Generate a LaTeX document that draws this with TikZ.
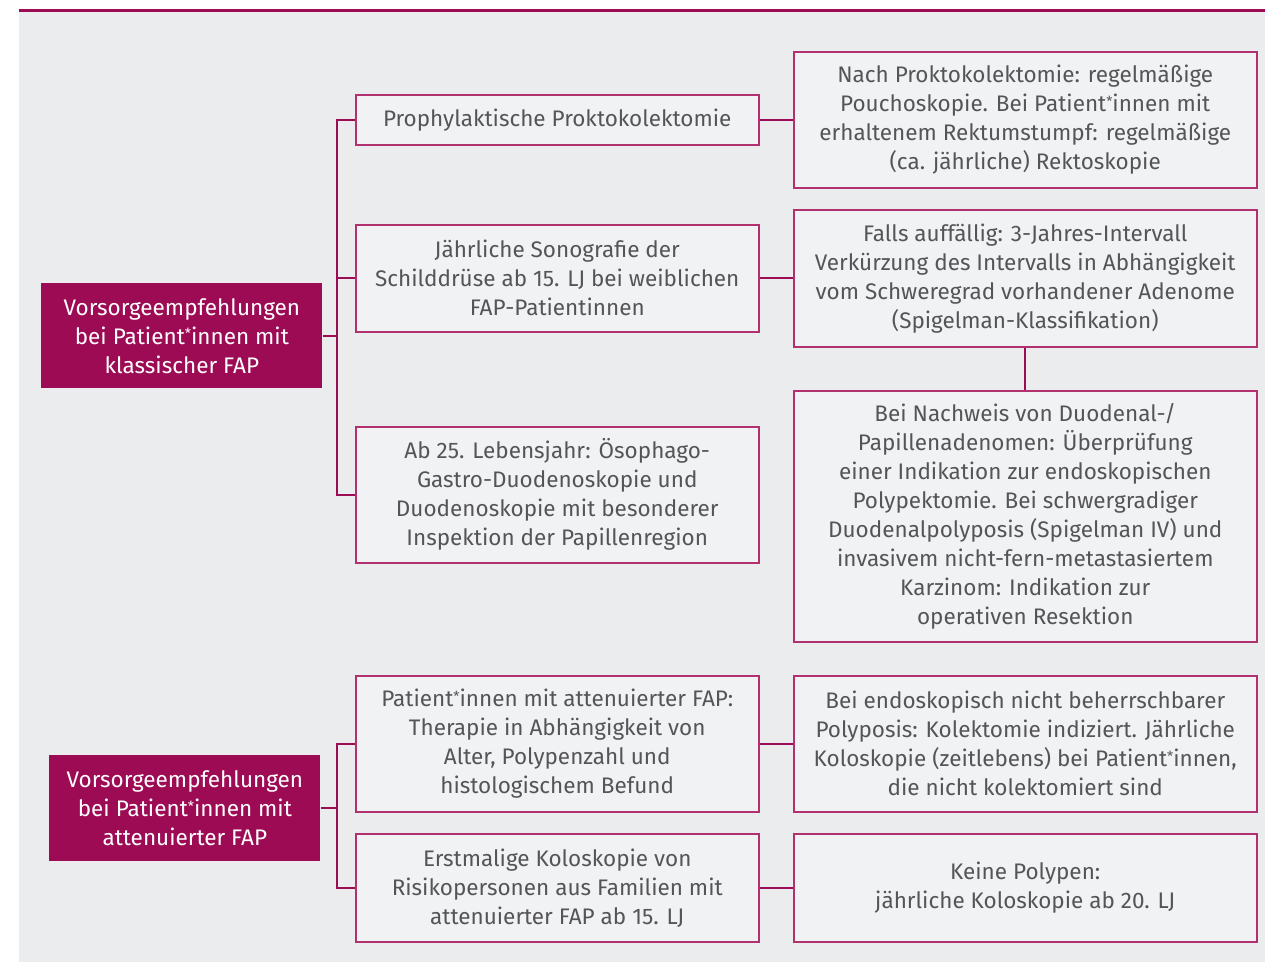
\documentclass[tikz,border=0pt]{standalone}
\usepackage{fontspec}
\setmainfont{Fira Sans}
\definecolor{fapred}{HTML}{9E0B55}
\definecolor{fapedge}{HTML}{B3306F}
\definecolor{fapgray}{HTML}{EBECEE}
\definecolor{fapbox}{HTML}{F1F2F4}
\definecolor{faptext}{HTML}{555558}
\newcommand{\gstar}{\raisebox{0.25em}{\fontsize{14}{14}\selectfont*}}
\tikzset{every picture/.style={line width=0.75pt}}
\tikzset{
  headbox/.style={fill=fapred,text=white,align=center,inner sep=0pt,anchor=north west,font=\fontsize{22.5}{29}\selectfont},
  infobox/.style={draw=fapedge,line width=1.5pt,fill=fapbox,text=faptext,align=center,inner sep=0pt,anchor=north west,font=\fontsize{22.5}{29}\selectfont},
  link/.style={draw=fapred,line width=2pt}
}

\begin{document}
\begin{tikzpicture}[x=1pt,y=1pt,yscale=-1,xscale=1]
        \useasboundingbox (0,0) rectangle (1265,962);

        %Shape: Rectangle (panel)
        \fill[fapgray] (19,11) rectangle (1265,962);
        %Straight Lines (top rule)
        \draw[fapred,line width=3pt] (19,10) -- (1265,10);

        % Head Nodes
        \node[headbox,minimum width=281,minimum height=105] (klass) at (41,283) {Vorsorgeempfehlungen\\bei Patient\gstar innen mit\\klassischer FAP};
        \node[headbox,minimum width=271,minimum height=106] (atten) at (49,755) {Vorsorgeempfehlungen\\bei Patient\gstar innen mit\\attenuierter FAP};

        % Middle Nodes
        \node[infobox,minimum width=403,minimum height=50] (prophyl) at (355,94) {Prophylaktische Proktokolektomie};
        \node[infobox,minimum width=403,minimum height=107] (sono) at (355,224) {Jährliche Sonografie der\\Schilddrüse ab 15. LJ bei weiblichen\\FAP-Patientinnen};
        \node[infobox,minimum width=403,minimum height=136] (oeso) at (355,426) {Ab 25. Lebensjahr: Ösophago-\\Gastro-Duodenoskopie und\\Duodenoskopie mit besonderer\\Inspektion der Papillenregion};
        \node[infobox,minimum width=403,minimum height=136] (therapie) at (355,675) {Patient\gstar innen mit attenuierter FAP:\\Therapie in Abhängigkeit von\\Alter, Polypenzahl und\\histologischem Befund};
        \node[infobox,minimum width=403,minimum height=108] (erstmal) at (355,833) {Erstmalige Koloskopie von\\Risikopersonen aus Familien mit\\attenuierter FAP ab 15. LJ};

        % Right Nodes
        \node[infobox,minimum width=463,minimum height=136] (pouch) at (793,51) {Nach Proktokolektomie: regelmäßige\\Pouchoskopie. Bei Patient\gstar innen mit\\erhaltenem Rektumstumpf: regelmäßige\\(ca. jährliche) Rektoskopie};
        \node[infobox,minimum width=463,minimum height=137] (intervall) at (793,209) {Falls auffällig: 3-Jahres-Intervall\\Verkürzung des Intervalls in Abhängigkeit\\vom Schweregrad vorhandener Adenome\\(Spigelman-Klassifikation)};
        \node[infobox,minimum width=463,minimum height=251] (duoden) at (793,390) {Bei Nachweis von Duodenal-/\\Papillenadenomen: Überprüfung\\einer Indikation zur endoskopischen\\Polypektomie. Bei schwergradiger\\Duodenalpolyposis (Spigelman IV) und\\invasivem nicht-fern-metastasiertem\\Karzinom: Indikation zur\\operativen Resektion};
        \node[infobox,minimum width=463,minimum height=136] (kolekt) at (793,675) {Bei endoskopisch nicht beherrschbarer\\Polyposis: Kolektomie indiziert. Jährliche\\Koloskopie (zeitlebens) bei Patient\gstar innen,\\die nicht kolektomiert sind};
        \node[infobox,minimum width=463,minimum height=108] (keine) at (793,833) {Keine Polypen:\\jährliche Koloskopie ab 20. LJ};

        % Bracket Lines
        \coordinate (spineA) at (337,336);
        \coordinate (spineB) at (337,808);
        \draw[link] (klass.east) -- (klass.east -| spineA);
        \draw[link] (prophyl.west) -| (spineA) |- (oeso.west);
        \draw[link] (sono.west) -- (sono.west -| spineA);
        \draw[link] (atten.east) -- (atten.east -| spineB);
        \draw[link] (therapie.west) -| (spineB) |- (erstmal.west);

        % Straight Lines
        \draw[link] (prophyl.east) -- (pouch.west);
        \draw[link] (sono.east) -- (intervall.west);
        \draw[link] (intervall.south) -- (duoden.north);
        \draw[link] (therapie.east) -- (kolekt.west);
        \draw[link] (erstmal.east) -- (keine.west);
\end{tikzpicture}
\end{document}
